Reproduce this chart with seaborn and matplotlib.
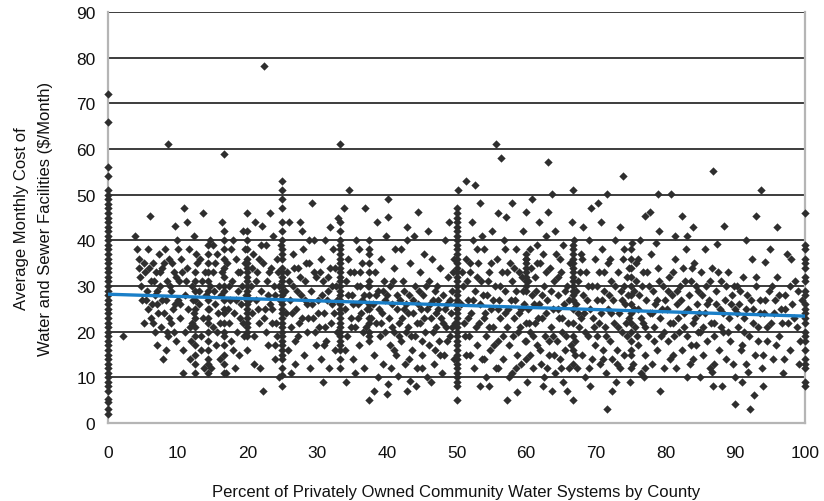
import matplotlib
matplotlib.use("Agg")
import matplotlib.pyplot as plt
import seaborn as sns
import pandas as pd

# ---------------- data ----------------
col_x0_y = [2, 3.1, 4.6, 5.3, 7, 8, 9, 10, 11, 12, 13, 14, 15, 16, 17, 18, 19, 20, 21, 22,
            23, 24, 25, 26, 27, 28, 29, 30, 31, 32, 33, 34, 35, 36, 37, 38, 39, 40, 41, 42,
            43, 44, 45, 46, 47, 48, 49, 50, 51, 54, 56, 66, 72]
col_x25_y = [8, 10.5, 12, 14, 15, 16, 17, 18, 19, 20, 21, 22, 23, 24, 25, 26, 27, 28, 29, 30,
             31, 32, 33, 34, 36, 37, 38, 40, 42, 44, 47, 49, 51, 53]
col_x50_y = [5, 8, 9, 10, 11, 12, 13, 14, 15, 16, 17, 18, 19, 20, 21, 22, 23, 24, 25, 26, 27,
             28, 29, 30, 31, 32, 33, 34, 35, 36, 37, 38, 39, 40, 41, 42, 43, 44, 45, 46, 47]
col_x100_y = [8, 9, 12, 13, 14, 16, 18, 19, 20, 22, 23, 24, 25, 26, 28, 29, 31, 32, 34, 35,
              36, 38, 39, 46]
col_x33_y = [12, 14, 16, 17, 18, 19, 20, 21, 22, 23, 24, 25, 26, 27, 28, 29, 30, 31, 32, 33,
             34, 35, 36, 37, 38, 39, 40, 42, 44, 61]
col_x20_y = [16, 19, 20, 21, 22, 23, 24, 25, 26, 27, 28, 29, 30, 31, 32, 33, 34, 35, 36, 38,
             40, 42, 46]
col_x16_y = [11, 13, 15, 17, 19, 20, 22, 24, 25, 27, 29, 30, 32, 34, 36, 38, 40, 42, 59]
col_x14_y = [11, 13, 14, 16, 18, 20, 22, 23, 25, 27, 29, 31, 33, 35, 37, 39]
col_x12_y = [11, 13, 15, 17, 19, 21, 23, 25, 27, 29, 31, 33]
col_x37_y = [18, 19, 20, 22, 23, 25, 26, 28, 30, 31, 33, 35, 37, 38, 40]
col_x66_y = [5, 13, 16, 19, 22, 25, 27, 28, 29, 30, 31, 32, 33, 34, 35, 36, 37, 38, 39, 51]
col_x60_y = [14, 18, 22, 29, 30, 31, 32, 33, 34, 35, 36, 37]
col_x75_y = [12, 15, 18, 20, 22, 24, 26, 28, 30, 32, 34, 36, 38]

column_positions = [0, 25, 50, 100, 33.3, 20, 16.7, 14.3, 12.5, 37.5, 66.7, 60, 75]
column_values = [col_x0_y, col_x25_y, col_x50_y, col_x100_y, col_x33_y, col_x20_y, col_x16_y,
                 col_x14_y, col_x12_y, col_x37_y, col_x66_y, col_x60_y, col_x75_y]

band_02_10 = [(2.2, 19.1), (3.9, 41), (4.2, 38), (4.5, 36), (4.5, 34), (4.6, 32), (4.8, 30), (5.1, 35),
              (5.3, 33), (5.5, 27), (5.6, 29), (5.8, 25), (6.0, 45.3), (6.1, 31), (6.2, 23), (6.4, 35),
              (6.5, 22), (6.7, 28), (6.9, 33), (7.0, 26), (7.1, 17), (7.3, 37), (7.5, 30), (7.6, 21),
              (7.8, 34), (7.9, 14), (8.0, 24), (8.2, 38), (8.3, 27), (8.4, 31), (8.6, 61), (8.6, 19),
              (8.8, 36), (9.0, 22), (9.1, 29), (9.3, 25), (9.5, 33), (9.6, 43.2), (9.7, 18), (9.9, 40),
              (10.0, 27), (9.2, 35), (8.5, 20), (7.2, 24), (6.3, 26),
              (4.9, 27), (5.2, 22), (5.7, 38), (6.6, 31), (6.8, 20), (7.4, 33), (7.7, 27), (8.1, 35),
              (8.7, 23), (8.9, 30), (9.4, 20), (9.8, 32), (5.9, 34), (7.0, 29), (8.3, 16), (9.6, 26)]
band_10_20 = [(10.2, 31), (10.4, 23), (10.5, 36), (10.7, 16), (10.9, 47.1), (11.0, 28), (11.1, 20),
              (11.3, 34), (11.5, 25), (11.6, 38), (11.8, 14), (12.0, 30), (12.1, 22), (12.3, 41),
              (13.0, 26), (13.2, 36), (13.4, 19), (13.5, 31), (13.7, 23), (13.8, 12), (14.0, 28),
              (14.6, 40), (15.0, 21), (15.1, 33), (15.3, 26), (15.5, 17), (15.6, 37), (15.8, 24),
              (15.9, 30), (16.0, 14), (16.2, 28), (17.1, 35), (17.3, 22), (17.5, 27), (17.6, 18),
              (17.8, 31), (18.0, 40), (18.1, 24), (18.3, 36), (18.5, 20), (18.6, 29), (18.8, 15),
              (19.0, 33), (19.1, 26), (19.3, 42), (19.4, 22), (19.6, 38), (19.8, 28), (18.2, 12),
              (17.0, 11), (16.4, 44), (12.6, 37), (11.4, 44), (10.8, 11), (14.8, 12), (13.6, 46),
              (10.3, 26), (10.6, 33), (11.2, 31), (11.7, 21), (12.2, 27), (12.8, 35), (13.1, 29),
              (13.3, 16), (13.9, 33), (14.5, 25), (14.7, 30), (15.2, 29), (15.4, 35), (15.7, 20),
              (16.1, 22), (16.3, 33), (17.2, 25), (17.4, 30), (17.7, 38), (18.4, 27), (18.7, 33),
              (18.9, 23), (19.2, 30), (19.5, 19), (19.7, 35), (11.9, 18), (12.4, 24), (17.9, 16),
              (15.0, 39), (10.1, 38)]
band_20_30 = [(20.5, 30), (20.6, 24), (20.8, 37), (21.0, 19), (21.1, 44), (21.3, 27), (21.4, 33),
              (21.6, 22), (21.8, 12), (22.0, 29), (22.1, 43.2), (22.2, 7), (22.3, 35), (22.4, 78.2),
              (22.5, 25), (22.6, 38.9), (22.7, 20), (22.8, 31), (23.0, 17), (23.2, 26), (23.4, 34),
              (23.5, 22), (23.7, 41), (23.9, 28), (24.0, 14), (24.2, 36), (24.3, 19), (24.5, 10),
              (24.6, 30), (25.5, 24), (25.7, 33), (25.8, 16), (26.0, 44), (26.1, 27), (26.3, 21),
              (26.5, 37), (26.6, 30), (26.8, 13), (27.0, 25), (27.2, 34), (27.3, 19), (27.5, 44),
              (27.7, 28), (27.8, 23), (28.0, 38), (28.1, 15), (28.3, 31), (28.5, 26), (28.6, 20),
              (28.8, 35), (29.0, 12), (29.1, 29), (29.3, 48.2), (29.4, 23), (29.6, 40), (29.8, 17),
              (29.9, 32), (26.2, 11), (23.3, 46), (20.9, 13), (27.9, 42), (24.8, 39),
              (20.3, 27), (20.7, 34), (21.2, 31), (21.5, 25), (21.7, 36), (22.4, 23), (22.9, 28),
              (23.1, 33), (23.6, 25), (23.8, 30), (24.1, 22), (24.4, 33), (24.7, 27), (25.4, 29),
              (25.9, 31), (26.4, 24), (26.7, 34), (27.1, 29), (27.4, 22), (27.6, 32), (28.2, 27),
              (28.4, 35), (28.7, 23), (29.2, 26), (29.5, 33), (29.7, 20), (21.9, 39), (23.9, 17),
              (26.9, 18), (28.9, 40)]
band_30_40 = [(30.2, 27), (30.3, 21), (30.5, 36), (30.6, 14), (30.8, 31), (31.0, 24), (31.1, 40),
              (31.3, 18), (31.5, 29), (31.7, 12), (31.8, 34), (32.0, 22), (32.2, 26), (32.3, 38),
              (32.5, 16), (32.7, 30), (32.8, 20), (33.0, 45), (34.0, 25), (34.2, 31), (34.3, 19),
              (34.5, 36), (34.6, 51), (34.8, 23), (35.0, 28), (35.1, 14), (35.3, 33), (35.5, 21),
              (35.6, 40), (35.8, 26), (36.0, 17), (36.1, 30), (36.3, 24), (36.5, 35), (36.7, 12),
              (36.9, 47.1), (36.8, 28), (37.0, 21), (37.4, 5), (38.2, 7), (38.0, 26), (38.1, 15),
              (38.3, 33), (38.5, 22), (38.7, 10), (38.8, 29), (39.0, 19), (39.2, 36), (39.3, 24),
              (39.5, 13), (39.6, 31), (39.8, 27), (40.0, 6.4), (39.9, 41), (38.6, 44), (35.4, 11),
              (34.1, 9), (33.8, 47), (31.9, 43), (30.9, 9),
              (30.1, 24), (30.4, 33), (30.7, 28), (31.2, 21), (31.4, 27), (31.6, 32), (32.1, 30),
              (32.4, 24), (32.6, 34), (32.9, 27), (34.4, 28), (34.7, 33), (34.9, 21), (35.2, 26),
              (35.7, 30), (35.9, 23), (36.2, 33), (36.4, 27), (36.6, 20), (37.1, 25), (37.3, 30),
              (37.8, 23), (38.4, 28), (38.9, 25), (39.1, 22), (39.4, 29), (39.7, 20), (36.0, 38),
              (31.0, 17), (34.0, 16)]
band_40_50 = [(40.2, 49), (40.2, 45.1), (40.2, 8.5), (40.3, 23), (40.4, 17), (40.5, 30), (40.6, 12),
              (40.8, 26), (41.0, 34), (41.1, 20), (41.3, 15), (41.5, 28), (41.6, 10.3), (41.8, 22),
              (42.0, 38), (42.1, 18), (42.3, 31), (42.5, 25), (42.6, 13), (42.9, 7), (42.9, 40),
              (42.9, 43), (43.0, 21), (43.2, 28), (43.3, 9.2), (43.4, 35), (43.6, 16), (43.8, 24),
              (44.0, 30), (44.1, 19), (44.3, 12), (44.5, 46.2), (44.5, 26), (44.7, 33), (44.8, 22),
              (45.0, 15), (45.2, 28), (45.3, 37), (45.5, 20), (45.7, 25), (45.8, 10), (46.0, 31),
              (46.1, 17), (46.3, 23), (46.5, 36), (46.6, 27), (46.8, 13), (47.0, 21), (47.2, 30),
              (47.3, 25), (47.5, 18), (47.7, 34), (47.8, 23), (48.0, 28), (48.2, 15), (48.3, 40),
              (48.5, 21), (48.7, 26), (48.8, 32), (49.0, 19), (49.2, 24), (49.4, 29), (49.6, 14),
              (49.7, 36), (49.8, 22), (44.2, 8), (46.4, 9), (47.9, 11), (41.2, 38), (43.9, 41),
              (45.9, 42), (48.9, 44),
              (40.1, 28), (40.7, 21), (40.9, 31), (41.4, 25), (41.7, 19), (41.9, 27), (42.2, 23),
              (42.4, 29), (42.7, 20), (42.8, 26), (43.1, 24), (43.5, 19), (43.7, 27), (44.4, 22),
              (44.6, 29), (44.9, 25), (45.1, 18), (45.4, 23), (45.6, 30), (46.2, 26), (46.7, 20),
              (46.9, 29), (47.1, 24), (47.4, 27), (47.6, 15), (48.1, 22), (48.4, 25), (48.6, 18),
              (49.1, 27), (49.3, 21), (49.5, 33), (49.9, 26), (43.2, 14), (45.0, 12), (46.9, 16),
              (41.0, 16)]
band_50_60 = [(50.2, 51), (51.4, 53), (52.7, 52.1), (53.4, 48.2), (51.0, 30), (51.1, 22), (51.3, 36),
              (51.4, 15), (51.6, 27), (51.8, 19), (52.0, 33), (52.1, 24), (52.3, 40), (52.5, 12),
              (52.6, 29), (52.8, 21), (53.0, 17), (53.1, 35), (53.3, 26), (53.4, 8.1), (53.5, 31),
              (53.7, 14), (53.9, 23), (54.0, 38), (54.2, 19), (54.4, 28), (54.6, 8.1), (54.6, 33),
              (54.8, 16), (55.0, 25), (55.1, 42), (55.3, 21), (55.5, 30), (55.6, 12), (55.7, 61.1),
              (55.8, 36), (56.0, 18), (56.1, 27), (56.3, 23), (56.4, 58), (56.5, 33), (56.7, 14),
              (56.8, 40), (57.0, 29), (57.1, 45.1), (57.2, 5), (57.2, 21), (57.4, 25), (57.6, 17),
              (57.7, 35), (57.9, 11), (58.0, 48.2), (58.0, 31), (58.2, 23), (58.4, 27), (58.5, 38),
              (58.7, 6.7), (58.7, 15), (58.8, 20), (59.0, 33), (59.2, 25), (59.3, 13), (59.5, 29),
              (59.6, 42), (59.8, 18), (59.9, 36), (52.2, 44), (54.3, 10), (55.9, 46), (53.6, 41),
              (57.5, 10),
              (50.6, 26), (50.8, 33), (51.2, 19), (51.5, 31), (51.7, 23), (51.9, 35), (52.4, 27),
              (52.9, 32), (53.2, 22), (53.8, 28), (54.1, 24), (54.5, 31), (54.7, 21), (54.9, 35),
              (55.2, 27), (55.4, 17), (55.9, 25), (56.2, 30), (56.6, 19), (56.9, 24), (57.3, 33),
              (57.8, 27), (58.1, 19), (58.3, 34), (58.6, 29), (58.9, 24), (59.1, 21), (59.4, 32),
              (59.7, 26), (52.0, 15), (56.0, 12), (54.0, 14), (58.5, 12), (53.0, 38), (57.0, 38)]
band_60_70 = [(60.0, 46.2), (60.1, 9), (60.8, 49), (60.3, 25), (60.5, 20), (60.6, 15), (60.9, 28),
              (61.0, 12), (61.2, 32), (61.3, 22), (61.5, 39), (61.6, 17), (61.8, 26), (62.0, 35),
              (62.1, 13), (62.3, 23), (62.4, 8.1), (62.5, 30), (62.7, 19), (62.9, 41), (63.0, 27),
              (63.1, 57.1), (63.1, 46.2), (63.2, 15), (63.4, 34), (63.5, 21), (63.7, 50.1), (63.7, 7),
              (63.8, 25), (64.0, 31), (64.1, 11), (64.3, 37), (64.4, 18), (64.6, 28), (64.7, 23),
              (64.9, 14), (65.0, 33), (65.1, 20), (65.3, 9), (65.3, 39), (65.4, 26), (65.6, 16),
              (65.8, 30), (66.0, 22), (66.1, 12), (66.3, 35), (67.0, 18), (67.2, 26), (67.3, 12),
              (67.5, 31), (67.6, 21), (67.8, 37), (68.0, 15), (68.1, 28), (68.3, 24), (68.5, 10),
              (68.6, 33), (68.8, 19), (69.0, 40), (69.1, 25), (69.2, 8.1), (69.3, 47.1), (69.4, 14),
              (69.5, 30), (69.7, 21), (69.8, 36), (69.9, 17), (61.9, 44), (64.2, 42), (66.5, 44),
              (68.2, 43), (62.6, 10), (65.9, 7), (61.4, 29), (63.3, 18), (64.8, 36), (67.9, 23),
              (60.2, 31), (60.4, 22), (60.7, 34), (61.1, 26), (61.7, 23), (62.2, 28), (62.8, 24),
              (62.9, 33), (63.6, 29), (63.9, 19), (64.5, 25), (65.2, 23), (65.5, 29), (65.7, 19),
              (66.2, 27), (66.4, 17), (67.1, 29), (67.4, 24), (67.7, 33), (68.4, 20), (68.7, 27),
              (68.9, 30), (69.6, 23), (61.0, 19), (62.0, 16), (63.0, 12), (64.0, 15), (65.0, 12),
              (67.0, 15), (69.0, 12), (68.0, 36), (62.4, 37), (61.5, 35), (64.5, 32), (66.8, 40),
              (60.5, 38)]
band_70_80 = [(70.3, 48.2), (70.1, 27), (70.2, 19), (70.4, 33), (70.6, 13), (70.7, 24), (70.9, 38),
              (71.0, 16), (71.2, 29), (71.3, 21), (71.5, 11), (71.6, 50.1), (71.6, 3.1), (71.7, 35),
              (71.8, 25), (72.0, 18), (72.1, 31), (72.3, 7), (72.3, 14), (72.5, 27), (72.6, 22),
              (72.8, 40), (73.0, 16), (73.1, 33), (73.3, 24), (73.4, 12), (73.6, 29), (73.7, 20),
              (73.9, 54), (73.9, 36), (74.0, 15), (74.2, 26), (74.4, 32), (74.5, 19), (74.7, 23),
              (74.9, 9), (75.3, 13), (75.4, 29), (75.6, 21), (75.8, 35), (76.0, 17), (76.1, 25),
              (76.3, 40), (76.4, 11), (76.6, 30), (76.8, 22), (77.0, 45.3), (77.0, 15), (77.2, 27),
              (77.4, 33), (77.5, 19), (77.7, 24), (77.8, 46.2), (77.9, 37), (78.0, 13), (78.2, 29),
              (78.4, 21), (78.5, 26), (78.7, 16), (78.9, 50.1), (78.9, 34), (79.0, 42), (79.2, 7),
              (79.2, 23), (79.4, 19), (79.6, 30), (79.7, 12), (79.9, 27), (70.8, 44), (73.5, 43),
              (76.9, 10), (72.9, 9), (75.2, 39.5), (78.6, 39.5),
              (70.2, 30), (70.5, 22), (70.9, 27), (71.1, 33), (71.4, 19), (71.9, 28), (72.2, 24),
              (72.7, 30), (73.2, 21), (73.8, 27), (74.1, 30), (74.3, 22), (74.6, 28), (74.8, 34),
              (75.5, 25), (75.7, 31), (75.9, 19), (76.2, 28), (76.5, 23), (76.7, 33), (77.1, 21),
              (77.6, 30), (78.1, 24), (78.3, 18), (78.8, 27), (79.1, 31), (79.5, 25), (79.8, 20),
              (71.0, 14), (73.0, 13), (75.0, 16), (77.0, 12), (72.0, 36), (74.0, 38), (76.0, 36)]
band_80_90 = [(80.8, 50.1), (80.2, 25), (80.4, 18), (80.5, 32), (80.7, 14), (80.9, 28), (81.1, 22),
              (81.3, 36), (81.5, 12), (81.7, 26), (81.9, 20), (82.1, 30), (82.3, 45.3), (82.3, 16),
              (82.5, 34), (82.7, 24), (82.9, 38), (83.1, 19), (83.3, 28), (83.5, 13), (83.7, 31),
              (83.9, 22), (84.1, 35), (84.3, 17), (84.5, 26), (84.7, 29), (84.9, 20), (85.1, 33),
              (85.3, 15), (85.6, 38.1), (85.6, 24), (85.8, 30), (86.0, 18), (86.2, 27), (86.4, 12),
              (86.7, 11.2), (86.8, 55.2), (86.8, 8.1), (86.6, 34), (87.0, 22), (87.2, 29), (87.4, 39.2),
              (87.6, 16), (87.8, 25), (88.1, 8.1), (88.0, 31), (88.2, 20), (88.4, 43.2), (88.5, 27),
              (88.7, 14), (88.9, 33), (89.1, 23), (89.3, 18), (89.5, 28), (89.7, 13), (89.9, 25),
              (83.0, 41), (85.0, 10), (81.4, 41), (84.0, 43),
              (80.3, 29), (80.6, 22), (81.0, 33), (81.2, 19), (81.6, 29), (81.8, 23), (82.2, 27),
              (82.6, 21), (82.8, 31), (83.2, 25), (83.6, 17), (83.8, 34), (84.2, 23), (84.4, 30),
              (84.6, 20), (84.8, 24), (85.2, 28), (85.4, 21), (85.9, 26), (86.3, 31), (86.5, 22),
              (86.9, 19), (87.3, 26), (87.5, 33), (87.9, 21), (88.3, 24), (88.6, 30), (89.0, 20),
              (89.4, 26), (89.8, 30), (81.0, 15), (84.0, 14), (87.0, 13), (83.0, 10)]
band_90_100 = [(90.0, 10), (90.0, 4.2), (90.2, 30), (90.4, 21), (90.6, 26), (90.8, 16), (91.0, 9),
               (91.1, 32), (91.3, 23), (91.5, 13), (91.8, 11.2), (91.7, 28), (92.0, 19), (92.1, 3.1),
               (92.4, 35.9), (92.5, 25), (92.7, 6.1), (92.8, 15), (93.0, 45.3), (93.0, 30), (93.2, 21),
               (93.7, 51.1), (93.5, 27), (93.8, 12), (94.0, 8.1), (94.1, 24), (94.3, 35.2), (94.5, 18),
               (94.8, 29), (95.1, 22), (95.4, 14), (95.7, 27), (96.0, 32), (96.2, 19), (96.5, 25),
               (96.8, 11), (97.1, 28), (97.4, 37), (97.6, 22), (97.9, 16), (98.2, 26), (98.6, 31),
               (98.9, 21), (99.2, 13), (99.5, 27), (91.5, 40), (95.0, 38), (98.0, 36), (96.0, 43),
               (90.3, 24), (90.7, 29), (91.2, 20), (91.6, 25), (92.2, 27), (92.6, 22), (92.9, 32),
               (93.3, 18), (93.6, 24), (94.2, 27), (94.6, 21), (95.2, 30), (95.5, 24), (95.9, 17),
               (96.3, 28), (96.7, 22), (97.2, 25), (97.8, 30), (98.4, 23), (99.0, 29), (99.3, 18),
               (97.0, 14), (94.0, 15), (91.0, 17)]

trend_x = [0, 100]
trend_y = [28.2, 23.4]

x_ticks = [0, 10, 20, 30, 40, 50, 60, 70, 80, 90, 100]
y_ticks = [0, 10, 20, 30, 40, 50, 60, 70, 80, 90]
x_label = "Percent of Privately Owned Community Water Systems by County"
y_label = "Average Monthly Cost of\nWater and Sewer Facilities ($/Month)"

# ---------------- assemble ----------------
xs, ys = [], []
for xp, vals in zip(column_positions, column_values):
    xs += [xp] * len(vals)
    ys += vals
for band in [band_02_10, band_10_20, band_20_30, band_30_40, band_40_50, band_50_60,
             band_60_70, band_70_80, band_80_90, band_90_100]:
    xs += [p[0] for p in band]
    ys += [p[1] for p in band]
df = pd.DataFrame({"x": xs, "y": ys})
trend = pd.DataFrame({"x": trend_x, "y": trend_y})

# ---------------- plot ----------------
sns.set_theme(style="white")
plt.rcParams['font.family'] = ['Liberation Sans', 'DejaVu Sans']

fig = plt.figure(figsize=(8.24, 5.02), dpi=100)
ax = fig.add_axes([108 / 824, 78 / 502, 697 / 824, 411 / 502])

ax.set_axisbelow(True)
ax.yaxis.grid(True, color="#3c3c3c", linewidth=1.4)
ax.xaxis.grid(False)

sns.scatterplot(data=df, x="x", y="y", ax=ax, marker="D", s=18, color="#2e2e2e",
                linewidth=0, clip_on=False, zorder=3)
sns.lineplot(data=trend, x="x", y="y", ax=ax, color="#1a7fc8", linewidth=2.4, zorder=4)

ax.set_xlim(0, 100)
ax.set_ylim(0, 90)
ax.set_xticks(x_ticks)
ax.set_yticks(y_ticks)
ax.tick_params(axis="both", labelsize=12.5, colors="#c8c8c8", labelcolor="#111111",
               length=4, width=1, direction="out")
ax.tick_params(axis="x", pad=12)
ax.tick_params(axis="y", pad=5)

for side in ["left", "bottom", "right"]:
    ax.spines[side].set_visible(True)
    ax.spines[side].set_color("#b5b5b5")
    ax.spines[side].set_linewidth(1.6)
ax.spines["top"].set_visible(False)

ax.set_xlabel(x_label, fontsize=12, color="#111111", labelpad=17)
ax.set_ylabel(y_label, fontsize=12, color="#111111", linespacing=1.75)
ax.yaxis.set_label_coords(-0.079, 0.5)

fig.savefig("out.png", dpi=100)
